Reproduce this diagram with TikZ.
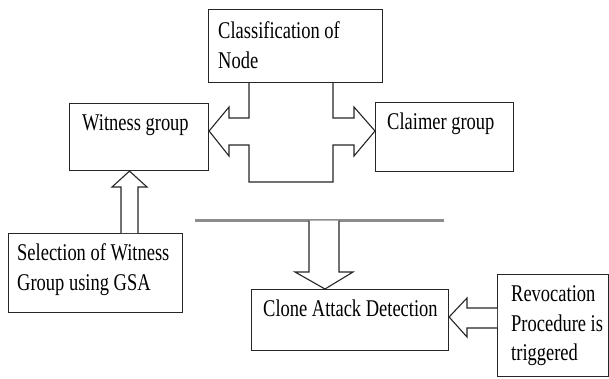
\documentclass[tikz,border=0pt]{standalone}
\usepackage{fontspec}
\setmainfont{Liberation Serif}[FakeStretch=0.77]
\begin{document}
\begin{tikzpicture}[x=1pt,y=-1pt,
  box/.style={draw=black!85, line width=1.1pt, inner sep=0pt, anchor=north west},
  label/.style={anchor=base west, inner sep=0pt, font=\fontsize{24}{30}\selectfont},
  blockarrow/.style={draw=black!85, line width=1.1pt, line join=miter, fill=white},
  rule/.style={draw=black!45, line width=2.2pt}]
\useasboundingbox (0,0) rectangle (609,378);

% boxes
\node[box, minimum width=174pt, minimum height=73pt] (cls) at (208,9) {};
\node[box, minimum width=139pt, minimum height=67pt] (wit) at (69,103) {};
\node[box, minimum width=138pt, minimum height=69pt] (clm) at (375,102) {};
\node[box, minimum width=174pt, minimum height=79pt] (sel) at (8,233) {};
\node[box, minimum width=197pt, minimum height=61pt] (cad) at (251,289) {};
\node[box, minimum width=111pt, minimum height=102pt] (rev) at (497,274) {};

% labels
\node[label] (clsA) at (218,38) {Classification of};
\node[label] (clsB) at (218,68) {Node};
\node[label] (witA) at (82,130) {Witness group};
\node[label] (clmA) at (387,129) {Claimer group};
\node[label] (selA) at (17,260) {Selection of Witness};
\node[label] (selB) at (17,290) {Group using GSA};
\node[label] (cadA) at (263,316) {Clone Attack Detection};
\node[label] (revA) at (511,301) {Revocation};
\node[label] (revB) at (511,331) {Procedure is};
\node[label] (revC) at (511,360) {triggered};

% double block arrow from the classification box to both groups
\draw[blockarrow]
  (249,0 |- cls.south) -- (249,118) -- (229,118) -- (229,107)
  -- (wit.east |- 0,131) -- (229,156) -- (229,145) -- (249,145)
  -- (249,182) -- (333,182) -- (333,145) -- (354,145) -- (354,156)
  -- (clm.west |- 0,131) -- (354,107) -- (354,118) -- (333,118)
  -- (333,0 |- cls.south);

% block arrow: selection -> witness group
\draw[blockarrow]
  (121,0 |- sel.north) -- (121,187) -- (112,187) -- (129.5,0 |- wit.south)
  -- (147,187) -- (138,187) -- (138,0 |- sel.north);

% separator rule
\coordinate (ruleL) at (195,220.5);
\coordinate (ruleR) at (444,220.5);
\draw[rule] (ruleL) -- (ruleR);

% block arrow: rule -> clone attack detection
\draw[blockarrow]
  (309,220.5) -- (309,272) -- (295,272) -- (325,0 |- cad.north)
  -- (353,272) -- (339,272) -- (339,220.5);

% block arrow: revocation -> clone attack detection
\draw[blockarrow]
  (rev.west |- 0,308) -- (467,308) -- (467,298) -- (cad.east |- 0,317)
  -- (467,337) -- (467,328) -- (rev.west |- 0,328);
\end{tikzpicture}
\end{document}
